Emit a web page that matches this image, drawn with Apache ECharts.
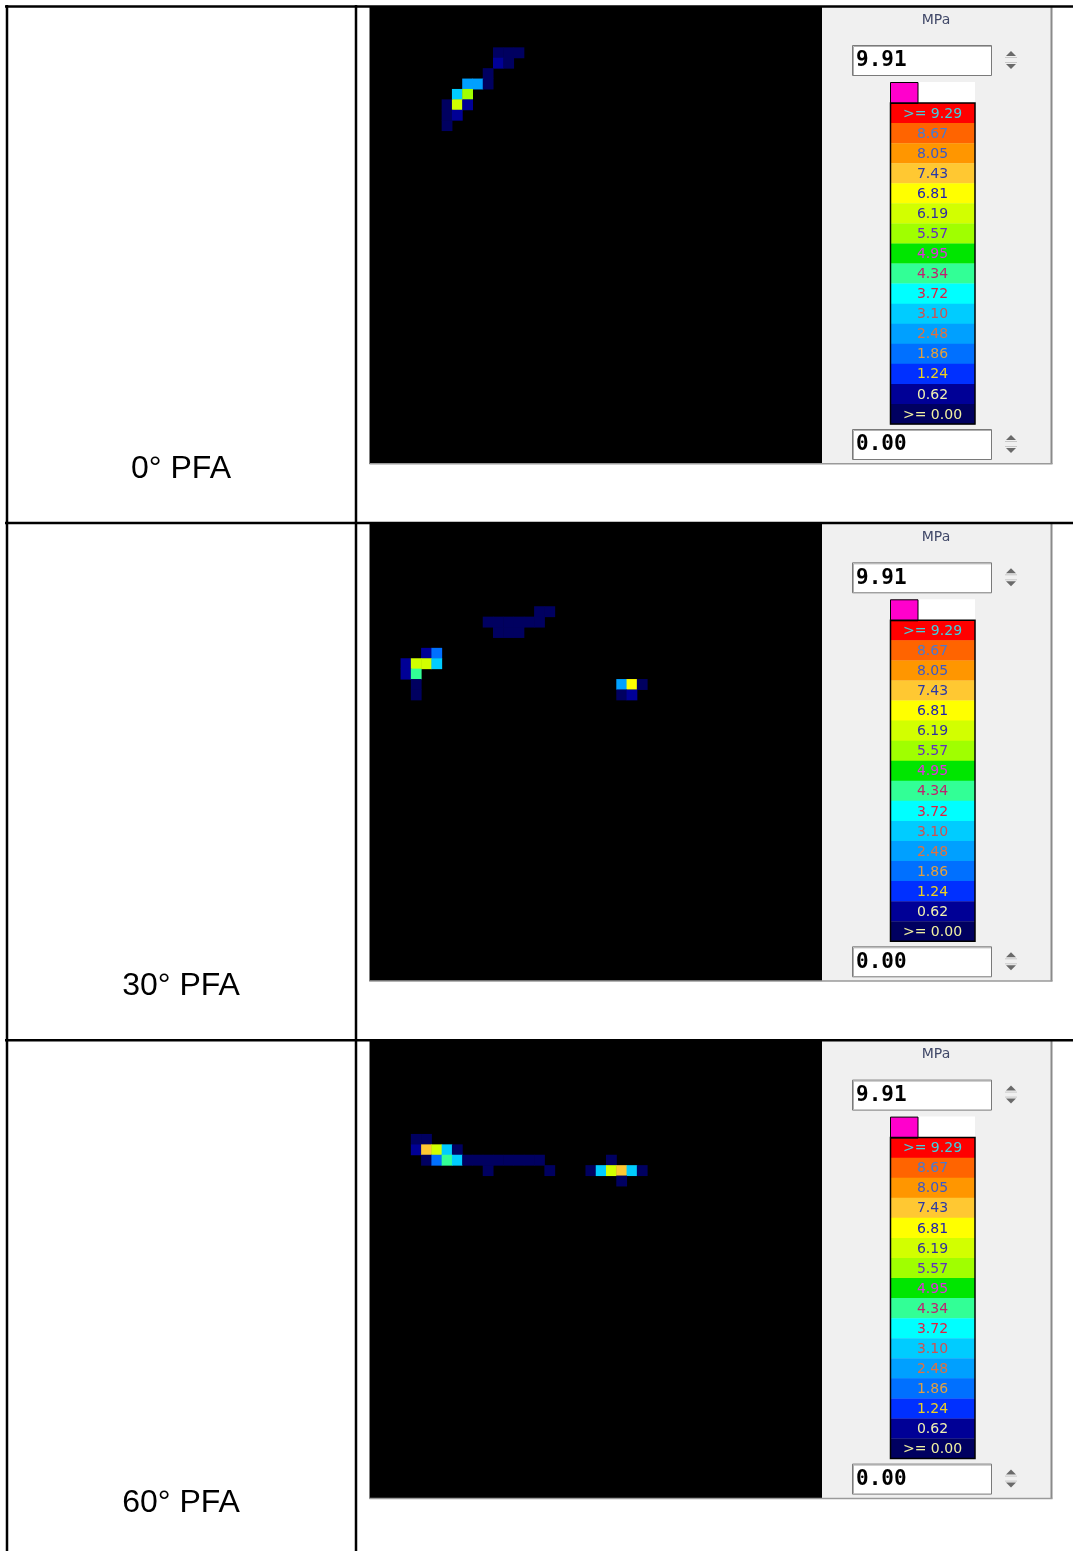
<!DOCTYPE html>
<html>
<head>
<meta charset="utf-8">
<script src="https://cdn.jsdelivr.net/npm/echarts@6/dist/echarts.min.js"></script>
<style>
html,body{margin:0;padding:0;background:#fff;}
#chart{width:1073px;height:1551px;}
</style>
</head>
<body>
<div id="chart"></div>
<script>
// ---- data ----
const panelLabels = ['0° PFA', '30° PFA', '60° PFA'];
const unitLabel = 'MPa';
const maxValueText = '9.91';
const minValueText = '0.00';
// band lower bounds (MPa), bottom to top
const bandThresholds = [0.00, 0.62, 1.24, 1.86, 2.48, 3.10, 3.72, 4.34, 4.95, 5.57, 6.19, 6.81, 7.43, 8.05, 8.67, 9.29];
const bandLabels = ['>= 0.00', '0.62', '1.24', '1.86', '2.48', '3.10', '3.72', '4.34', '4.95', '5.57', '6.19', '6.81', '7.43', '8.05', '8.67', '>= 9.29'];
const bandColors = ['#000060', '#000096', '#0030ff', '#0070ff', '#00a0ff', '#00ccff', '#00ffff', '#32ff96', '#00e600', '#a0ff00', '#d2ff00', '#ffff00', '#ffc832', '#ff9600', '#ff6400', '#ff0000'];
const bandTextColors = ['#f0f0a0', '#f0f0b0', '#f0d020', '#e0a040', '#e07040', '#d05050', '#e02040', '#c02070', '#e030e0', '#6030c0', '#3030a0', '#2020b0', '#2a3aa8', '#3a5ac8', '#4a7ad0', '#40d0e0'];
const gridCols = 44, gridRows = 44;
// cells: [column, row, stress MPa]
const pfa0 = [
  [12,4,0.3],[13,4,0.3],[14,4,0.3],
  [12,5,0.9],[13,5,0.3],
  [11,6,0.3],
  [9,7,2.7],[10,7,2.7],[11,7,0.3],
  [8,8,3.4],[9,8,5.8],
  [7,9,0.3],[8,9,6.4],[9,9,0.9],
  [7,10,0.3],[8,10,0.9],
  [7,11,0.3]
];
const pfa30 = [
  [16,8,0.3],[17,8,0.3],
  [11,9,0.3],[12,9,0.3],[13,9,0.3],[14,9,0.3],[15,9,0.3],[16,9,0.3],
  [12,10,0.3],[13,10,0.3],[14,10,0.3],
  [5,12,0.9],[6,12,2.0],
  [3,13,0.9],[4,13,6.4],[5,13,6.4],[6,13,3.4],
  [3,14,0.9],[4,14,4.6],
  [4,15,0.3],[4,16,0.3],
  [24,15,2.9],[25,15,7.0],[26,15,0.3],
  [24,16,0.3],[25,16,0.9]
];
const pfa60 = [
  [4,9,0.3],[5,9,0.3],
  [4,10,0.9],[5,10,7.7],[6,10,6.4],[7,10,3.4],[8,10,0.3],
  [5,11,0.3],[6,11,2.0],[7,11,4.6],[8,11,3.4],
  [9,11,0.3],[10,11,0.3],[11,11,0.3],[12,11,0.3],[13,11,0.3],[14,11,0.3],[15,11,0.3],[16,11,0.3],
  [11,12,0.3],[17,12,0.3],
  [23,11,0.3],
  [21,12,0.3],[22,12,3.4],[23,12,6.4],[24,12,7.7],[25,12,3.4],[26,12,0.3],
  [24,13,0.3]
];
const panelData = [pfa0, pfa30, pfa60];

// ---- layout ----
const PANEL_STEP = 517.3;
const GRID_LEFT = 370, GRID_TOP = 6, GRID_W = 452, GRID_H = 457.6;

const cats = (n) => Array.from({length: n}, (_, i) => String(i));
const grids = [], xAxes = [], yAxes = [], series = [];
panelData.forEach((d, i) => {
  grids.push({left: GRID_LEFT, top: GRID_TOP + PANEL_STEP * i, width: GRID_W, height: GRID_H,
    show: true, backgroundColor: '#000000', borderWidth: 0});
  xAxes.push({type: 'category', gridIndex: i, data: cats(gridCols), show: false});
  yAxes.push({type: 'category', gridIndex: i, data: cats(gridRows), show: false, inverse: true});
  series.push({type: 'heatmap', xAxisIndex: i, yAxisIndex: i, data: d,
    itemStyle: {borderWidth: 0}, emphasis: {disabled: true}, progressive: 0, animation: false});
});

const pieces = bandThresholds.map((t, k) => {
  const p = {gte: t, color: bandColors[k]};
  if (k < bandThresholds.length - 1) p.lt = bandThresholds[k + 1];
  return p;
});

// ---- graphics (table + legend panels) ----
const g = [];
function spin(x, y) {
  g.push({type: 'polygon', shape: {points: [[x, y - 9], [x - 5, y - 4], [x + 5, y - 4]]}, style: {fill: '#6a6a6a'}, z: 21});
  g.push({type: 'line', shape: {x1: x - 6, y1: y - 2.5, x2: x + 6, y2: y - 2.5}, style: {stroke: '#c8c8c8', lineWidth: 1}, z: 21});
  g.push({type: 'line', shape: {x1: x - 6, y1: y + 2.5, x2: x + 6, y2: y + 2.5}, style: {stroke: '#c8c8c8', lineWidth: 1}, z: 21});
  g.push({type: 'polygon', shape: {points: [[x, y + 9], [x - 5, y + 4], [x + 5, y + 4]]}, style: {fill: '#6a6a6a'}, z: 21});
}
function inputBox(y, txt) {
  g.push({type: 'rect', shape: {x: 852.5, y: y + 0.5, width: 139, height: 30}, style: {fill: '#ffffff', stroke: '#7a7a7a', lineWidth: 1}, z: 20});
  g.push({type: 'polyline', shape: {points: [[853.5, y + 30], [853.5, y + 1.5], [991, y + 1.5]]}, style: {stroke: '#b0b0b0', lineWidth: 1, fill: null}, z: 21});
  g.push({type: 'text', x: 856, y: y + 16, style: {text: txt, font: 'bold 21px "DejaVu Sans Mono", monospace', fill: '#000000', textVerticalAlign: 'middle', textAlign: 'left'}, z: 22});
  spin(1011, y + 15);
}
for (let i = 0; i < 3; i++) {
  const off = PANEL_STEP * i;
  // legend panel
  g.push({type: 'rect', shape: {x: 822, y: 6 + off, width: 229, height: 457.6}, style: {fill: '#f0f0f0'}, z: 10});
  g.push({type: 'line', shape: {x1: 1051.5, y1: 6 + off, x2: 1051.5, y2: 464 + off}, style: {stroke: '#8a8a8a', lineWidth: 2}, z: 11});
  g.push({type: 'line', shape: {x1: 369.5, y1: 463.8 + off, x2: 1052.5, y2: 463.8 + off}, style: {stroke: '#9a9a9a', lineWidth: 1.5}, z: 11});
  g.push({type: 'line', shape: {x1: 369.5, y1: 6 + off, x2: 369.5, y2: 464 + off}, style: {stroke: '#808080', lineWidth: 1}, z: 11});
  g.push({type: 'text', x: 936, y: 20 + off, style: {text: unitLabel, font: '14px "DejaVu Sans", sans-serif', fill: '#404868', textAlign: 'center', textVerticalAlign: 'middle'}, z: 20});
  inputBox(45 + off, maxValueText);
  inputBox(429 + off, minValueText);
  // over-range swatch
  g.push({type: 'rect', shape: {x: 918, y: 82 + off, width: 57, height: 21}, style: {fill: '#ffffff'}, z: 20});
  g.push({type: 'rect', shape: {x: 890.5, y: 82.5 + off, width: 27.5, height: 21}, style: {fill: '#ff00cc', stroke: '#000000', lineWidth: 1}, z: 21});
  const barTop = 103 + off, bandH = (424 - 103) / bandColors.length;
  for (let k = bandColors.length - 1, r = 0; k >= 0; k--, r++) {
    g.push({type: 'rect', shape: {x: 890, y: barTop + r * bandH, width: 85, height: bandH + 0.3}, style: {fill: bandColors[k]}, z: 20});
    g.push({type: 'text', x: 932.5, y: barTop + r * bandH + bandH / 2 + 1, style: {text: bandLabels[k], font: '14px "DejaVu Sans", sans-serif', fill: bandTextColors[k], textAlign: 'center', textVerticalAlign: 'middle'}, z: 22});
  }
  g.push({type: 'rect', shape: {x: 890.5, y: barTop, width: 84.5, height: 424 - 103}, style: {fill: null, stroke: '#000000', lineWidth: 1.5}, z: 23});
  // table row label
  g.push({type: 'text', x: 181, y: 469 + off, style: {text: panelLabels[i], font: '32px "Liberation Sans", Arial, sans-serif', fill: '#000000', textAlign: 'center', textVerticalAlign: 'middle'}, z: 30});
}
// table lines
[6.5, 523, 1040.3].forEach(y => g.push({type: 'line', shape: {x1: 5, y1: y, x2: 1073, y2: y}, style: {stroke: '#000000', lineWidth: 2.5}, z: 40}));
g.push({type: 'line', shape: {x1: 7, y1: 5, x2: 7, y2: 1551}, style: {stroke: '#000000', lineWidth: 2.5}, z: 40});
g.push({type: 'line', shape: {x1: 356, y1: 5, x2: 356, y2: 1551}, style: {stroke: '#000000', lineWidth: 2.5}, z: 40});

const chart = echarts.init(document.getElementById('chart'), null, {renderer: 'canvas'});
chart.setOption({
  animation: false,
  backgroundColor: '#ffffff',
  grid: grids,
  xAxis: xAxes,
  yAxis: yAxes,
  visualMap: {type: 'piecewise', show: false, dimension: 2, seriesIndex: [0, 1, 2], pieces: pieces},
  series: series,
  graphic: {elements: g}
});
</script>
</body>
</html>
